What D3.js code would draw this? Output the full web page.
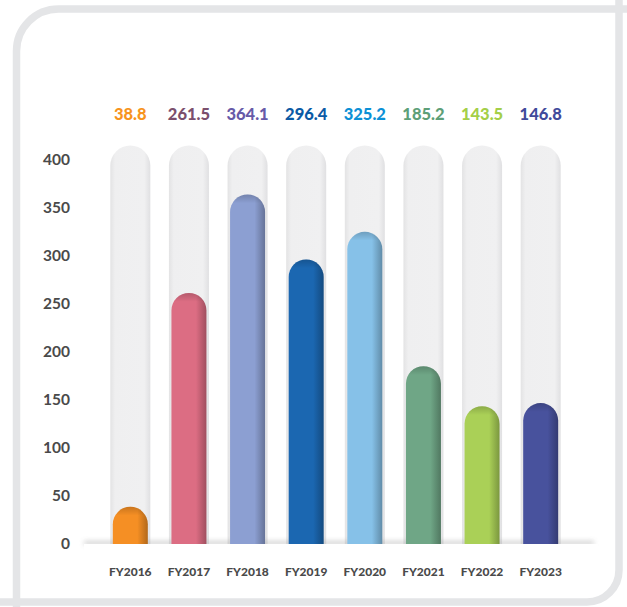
<!DOCTYPE html>
<html>
<head>
<meta charset="utf-8">
<script src="https://cdn.jsdelivr.net/npm/d3@7"></script>
<style>
  html, body { margin: 0; padding: 0; background: #ffffff; }
  svg { display: block; font-family: Lato, "Open Sans", sans-serif; }
</style>
</head>
<body>
<svg id="chart" width="627" height="607"></svg>
<script>
// Fiscal years and their values
const years = ["FY2016", "FY2017", "FY2018", "FY2019", "FY2020", "FY2021", "FY2022", "FY2023"];
const values = [38.8, 261.5, 364.1, 296.4, 325.2, 185.2, 143.5, 146.8];
const barColors = ["#f58f24", "#dc6d83", "#8c9fd2", "#1b67b1", "#86c1e8", "#6fa686", "#aad057", "#48529d"];
const labelColors = ["#f7941d", "#7b4f6d", "#675aa8", "#0b5aa5", "#0b90d6", "#5d9f78", "#a4cf48", "#414a9b"];
const yTicks = [0, 50, 100, 150, 200, 250, 300, 350, 400];
const trackMax = 415;

const svg = d3.select("#chart");
const W = 627, H = 607;

// Outer frame: rounded top-left and bottom-right corners
const fx0 = 16.5, fy0 = 9, fx1 = 619, fy1 = 602, r1 = 42, r2 = 32;
svg.append("path")
  .attr("d", `M${fx0},${H + 10} L${fx0},${fy0 + r1} A${r1},${r1} 0 0 1 ${fx0 + r1},${fy0} L${W + 10},${fy0}
              M${fx1},${fy0 - 10} L${fx1},${fy1 - r2} A${r2},${r2} 0 0 1 ${fx1 - r2},${fy1} L${-10},${fy1}`)
  .attr("fill", "none")
  .attr("stroke", "#e4e5e7")
  .attr("stroke-width", 7.5);

const x = d3.scaleBand().domain(years).range([101, 570]).paddingInner(0.3).paddingOuter(0.15);
const y = d3.scaleLinear().domain([0, 400]).range([544, 160]);

const defs = svg.append("defs");

// Track gradient (light grey with soft edges)
const tg = defs.append("linearGradient").attr("id", "trackGrad").attr("x1", "0").attr("x2", "1");
tg.append("stop").attr("offset", "0").attr("stop-color", "#e3e3e4");
tg.append("stop").attr("offset", "0.12").attr("stop-color", "#efeff0");
tg.append("stop").attr("offset", "0.85").attr("stop-color", "#f0f0f1");
tg.append("stop").attr("offset", "1").attr("stop-color", "#e0e0e2");

// Per-bar gradients: darker toward the right edge
barColors.forEach((c, i) => {
  const g = defs.append("linearGradient").attr("id", "barGrad" + i).attr("x1", "0").attr("x2", "1");
  g.append("stop").attr("offset", "0").attr("stop-color", c);
  g.append("stop").attr("offset", "0.7").attr("stop-color", c);
  g.append("stop").attr("offset", "1").attr("stop-color", d3.color(c).darker(0.9));
});
const topShade = defs.append("linearGradient").attr("id", "topShade").attr("x1", "0").attr("x2", "0").attr("y1", "0").attr("y2", "1");
topShade.append("stop").attr("offset", "0").attr("stop-color", "#000").attr("stop-opacity", 0.3);
topShade.append("stop").attr("offset", "0.5").attr("stop-color", "#000").attr("stop-opacity", 0);

const baseShadow = defs.append("filter").attr("id", "blur").attr("x", "-10%").attr("y", "-200%").attr("width", "120%").attr("height", "500%");
baseShadow.append("feGaussianBlur").attr("stdDeviation", 2.5);

function capsule(cx, w, top, bottom) {
  const r = w / 2;
  return `M${cx - r},${bottom} L${cx - r},${top + r} A${r},${r} 0 0 1 ${cx + r},${top + r} L${cx + r},${bottom} Z`;
}

// Background tracks
const trackW = 40, barW = 35;
svg.append("g").selectAll("path").data(years).join("path")
  .attr("d", d => capsule(x(d) + x.bandwidth() / 2, trackW, y(trackMax), y(0)))
  .attr("fill", "url(#trackGrad)");

// Baseline shadow
svg.append("rect")
  .attr("x", 84).attr("y", y(0) - 3).attr("width", 510).attr("height", 4)
  .attr("fill", "#9a9a9a").attr("opacity", 0.45).attr("filter", "url(#blur)");

// Value bars
const bars = svg.append("g");
years.forEach((yr, i) => {
  const cx = x(yr) + x.bandwidth() / 2;
  bars.append("path")
    .attr("d", capsule(cx, barW, y(values[i]), y(0)))
    .attr("fill", `url(#barGrad${i})`);
  bars.append("path")
    .attr("d", capsule(cx, barW, y(values[i]), y(values[i]) + barW / 2))
    .attr("fill", "url(#topShade)")
    .attr("opacity", 0.6);
});

// White strip under the baseline to cut the bars cleanly
svg.append("rect").attr("x", 84).attr("y", y(0)).attr("width", 514).attr("height", 6).attr("fill", "#ffffff");

// Y axis labels
const yAxis = d3.axisLeft(y).tickValues(yTicks).tickSize(0).tickPadding(0);
const ya = svg.append("g").attr("transform", "translate(70,0)").call(yAxis);
ya.select(".domain").remove();
ya.selectAll("text")
  .attr("fill", "#4a4a4a").attr("font-size", 15.5).attr("font-weight", 700)
  .attr("font-family", "Lato, 'Open Sans', sans-serif");

// X axis labels
const xAxis = d3.axisBottom(x).tickSize(0).tickPadding(0);
const xa = svg.append("g").attr("transform", "translate(0,567.5)").call(xAxis);
xa.select(".domain").remove();
xa.selectAll("text")
  .attr("fill", "#4a4a4a").attr("font-size", 12).attr("font-weight", 900)
  .attr("font-family", "Lato, 'Open Sans', sans-serif");

// Value labels above the tracks
svg.append("g").selectAll("text").data(years).join("text")
  .attr("x", d => x(d) + x.bandwidth() / 2)
  .attr("y", 120)
  .attr("text-anchor", "middle")
  .attr("font-size", 16.5).attr("font-weight", 900)
  .attr("fill", (d, i) => labelColors[i])
  .text((d, i) => values[i].toFixed(1));
</script>
</body>
</html>
